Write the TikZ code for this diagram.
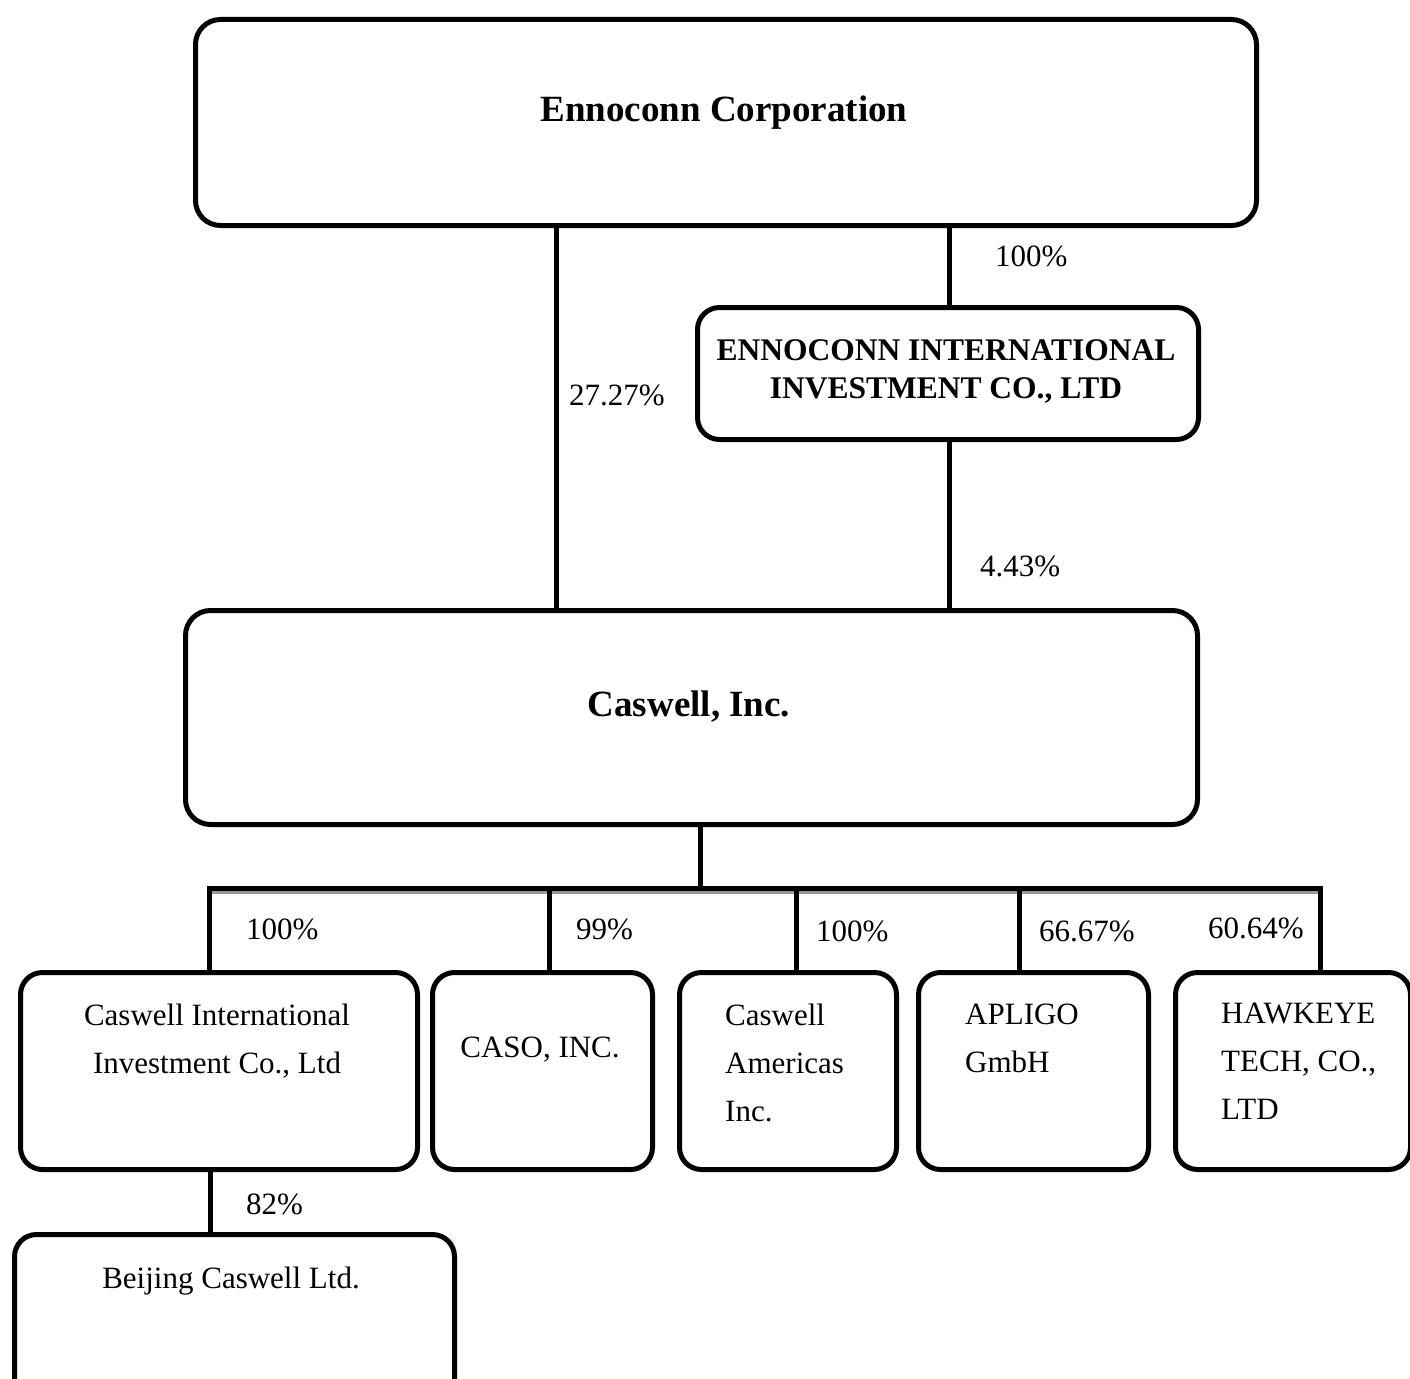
\documentclass[tikz,border=0pt]{standalone}
\usepackage{fontspec}
\setmainfont{Liberation Serif}
\usetikzlibrary{calc}
\begin{document}
\begin{tikzpicture}[x=1pt,y=-1pt,
  box/.style={draw, line width=5pt, rounded corners=22pt, inner sep=0pt, anchor=north west},
  conn/.style={line width=5pt, line join=miter},
  shade/.style={line width=3pt, black!40},
  lbl/.style={font=\fontsize{31}{48}\selectfont, inner sep=0pt},
  big/.style={font=\fontsize{37}{44}\selectfont\bfseries, inner sep=0pt},
  mid/.style={font=\fontsize{31.5}{38}\selectfont\bfseries, inner sep=0pt, align=center}]
\useasboundingbox (0,0) rectangle (1410,1378);
\clip (0,0) rectangle (1410,1378);

% boxes
\node[box, rounded corners=25pt, minimum width=1061pt, minimum height=206pt] (E) at (193,17) {};
\node[box, minimum width=501pt, minimum height=132pt] (I) at (695,305) {};
\node[box, rounded corners=25pt, minimum width=1012pt, minimum height=214pt] (C) at (183,608) {};
\node[box, minimum width=397pt, minimum height=197pt] (B1) at (18,970) {};
\node[box, minimum width=220pt, minimum height=197pt] (B2) at (430,970) {};
\node[box, minimum width=217pt, minimum height=197pt] (B3) at (677,970) {};
\node[box, minimum width=230pt, minimum height=197pt] (B4) at (916,970) {};
\node[box, minimum width=235pt, minimum height=197pt] (B5) at (1173,970) {};
\node[box, minimum width=440pt, minimum height=180pt] (BJ) at (12,1232) {};

% texts
\node[big, anchor=base] (tE) at (724,122) {Ennoconn Corporation};
\node[mid, anchor=north] (tI) at (946,339) {ENNOCONN INTERNATIONAL\\INVESTMENT CO., LTD};
\node[big, anchor=base] (tC) at (689,716) {Caswell, Inc.};
\node[lbl, align=center, anchor=north] (tB1) at (217,1004) {Caswell International\\Investment Co., Ltd};
\node[lbl, anchor=base] (tB2) at (540,1057) {CASO, INC.};
\node[lbl, align=left, anchor=north west] (tB3) at (725,1004) {Caswell\\Americas\\Inc.};
\node[lbl, align=left, anchor=north west] (tB4) at (965,1004) {APLIGO\\GmbH};
\node[lbl, align=left, anchor=north west] (tB5) at (1221,1003) {HAWKEYE\\TECH, CO.,\\LTD};
\node[lbl, anchor=base] (tBJ) at (231,1288) {Beijing Caswell Ltd.};

% percentages
\node[lbl, anchor=base west] (p1) at (995,266) {100\%};
\node[lbl, anchor=base west] (p2) at (569,405) {27.27\%};
\node[lbl, anchor=base west] (p3) at (980,576) {4.43\%};
\node[lbl, anchor=base west] (p4) at (246,939) {100\%};
\node[lbl, anchor=base west] (p5) at (576,939) {99\%};
\node[lbl, anchor=base west] (p6) at (816,941) {100\%};
\node[lbl, anchor=base west] (p7) at (1039,941) {66.67\%};
\node[lbl, anchor=base west] (p8) at (1208,938) {60.64\%};
\node[lbl, anchor=base west] (p9) at (246,1214) {82\%};

% tap coordinates
\coordinate (t1) at (556,0);
\coordinate (t2) at (949,0);
\coordinate (t3) at (700,888);
\coordinate (busL) at (209,888);
\coordinate (busR) at (1320,888);
\coordinate (d2) at (549,888);
\coordinate (d3) at (796,888);
\coordinate (d4) at (1019,888);
\coordinate (d6) at (210,0);

% connectors
\draw[conn] (E.south -| t1) -- (C.north -| t1);
\draw[conn] (E.south -| t2) -- (I.north -| t2);
\draw[conn] (I.south -| t2) -- (C.north -| t2);
\draw[conn] (C.south -| t3) -- (t3);
\draw[shade] ($(busL)+(0,4)$) -- ($(busR)+(-2,4)$);
\draw[conn] (B1.north -| busL) -- (busL) -- (busR) -- (B5.north -| busR);
\draw[conn] (d2) -- (B2.north -| d2);
\draw[conn] (d3) -- (B3.north -| d3);
\draw[conn] (d4) -- (B4.north -| d4);
\draw[conn] (B1.south -| d6) -- (BJ.north -| d6);
\end{tikzpicture}
\end{document}
